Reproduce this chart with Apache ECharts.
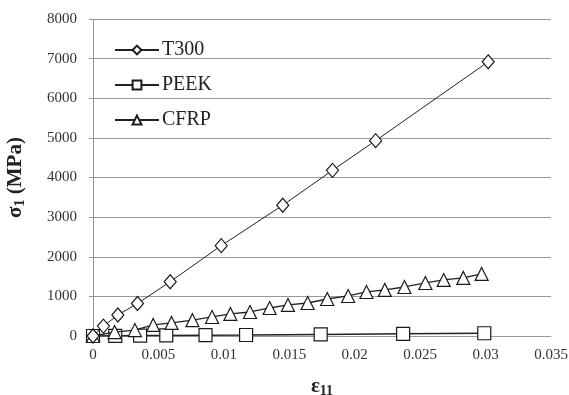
<!DOCTYPE html>
<html>
<head>
<meta charset="utf-8">
<script src="https://cdn.jsdelivr.net/npm/echarts@6/dist/echarts.min.js"></script>
<style>html,body{margin:0;padding:0;background:#fff}#c{width:569px;height:395px}</style>
</head>
<body>
<div id="c"></div>
<script>
// Data
const seriesNames = ['T300', 'PEEK', 'CFRP'];
const t300Strain = [0, 0.0008, 0.0019, 0.0034, 0.0059, 0.0098, 0.0145, 0.0183, 0.0216, 0.0302];
const t300Stress = [0, 250, 530, 820, 1370, 2280, 3300, 4180, 4930, 6920];
const peekStrain = [0, 0.0017, 0.0036, 0.0056, 0.0086, 0.0117, 0.0174, 0.0237, 0.0299];
const peekStress = [0, 5, 10, 15, 20, 25, 40, 55, 70];
const cfrpStrain = [0, 0.00165, 0.0032, 0.0046, 0.0060, 0.0076, 0.0091, 0.0105, 0.0120, 0.0135, 0.0149, 0.0164, 0.0179, 0.0195, 0.0209, 0.0223, 0.0238, 0.0254, 0.0268, 0.0283, 0.0297];
const cfrpStress = [0, 100, 150, 280, 330, 400, 480, 556, 606, 707, 783, 833, 934, 1010, 1111, 1162, 1237, 1338, 1414, 1465, 1566];
const xTicks = [0, 0.005, 0.01, 0.015, 0.02, 0.025, 0.03, 0.035];
const yTicks = [0, 1000, 2000, 3000, 4000, 5000, 6000, 7000, 8000];

const zip = (a, b) => a.map((v, i) => [v, b[i]]);
const font = '"Liberation Serif", "Times New Roman", serif';
const mk = {color: '#fff', borderColor: '#1a1a1a', borderWidth: 1.2};

const chart = echarts.init(document.getElementById('c'), null, {renderer: 'canvas'});
chart.setOption({
  animation: false,
  backgroundColor: '#fff',
  grid: {left: 93, right: 18, top: 19, bottom: 59, containLabel: false, outerBoundsMode: 'none'},
  legend: {
    orient: 'vertical', left: 109, top: 35, itemGap: 15,
    itemWidth: 44, itemHeight: 11,
    textStyle: {fontFamily: font, fontSize: 20, color: '#222', padding: [0, 0, 0, -2]},
    data: seriesNames
  },
  xAxis: {
    type: 'value', min: 0, max: 0.035, interval: 0.005,
    axisLine: {show: true, lineStyle: {color: '#999', width: 1}},
    axisTick: {show: false},
    splitLine: {show: false},
    axisLabel: {fontFamily: font, fontSize: 15, color: '#333', margin: 12,
      formatter: v => { const t = xTicks.find(x => Math.abs(x - v) < 1e-9); return t === undefined ? '' : String(t); }},
    name: '{a|ε}{s|11}', nameLocation: 'middle', nameGap: 39,
    nameTextStyle: {rich: {
      a: {fontFamily: font, fontSize: 21, fontWeight: 'bold', color: '#222'},
      s: {fontFamily: font, fontSize: 14, fontWeight: 'bold', color: '#222', padding: [9, 0, 0, 0]}
    }}
  },
  yAxis: {
    type: 'value', min: 0, max: 8000, interval: 1000,
    axisLine: {show: true, lineStyle: {color: '#999', width: 1}},
    axisTick: {show: true, length: 4, inside: false, lineStyle: {color: '#999'}},
    splitLine: {show: true, lineStyle: {color: '#999', width: 1}},
    axisLabel: {fontFamily: font, fontSize: 15, color: '#333', margin: 16,
      formatter: v => yTicks.includes(v) ? String(v) : ''},
    name: '{a|σ}{s|1}{a| (MPa)}', nameLocation: 'middle', nameGap: 66, nameRotate: 90,
    nameTextStyle: {rich: {
      a: {fontFamily: font, fontSize: 21, fontWeight: 'bold', color: '#222'},
      s: {fontFamily: font, fontSize: 14, fontWeight: 'bold', color: '#222', padding: [9, 0, 0, 0]}
    }}
  },
  series: [
    {name: seriesNames[1], type: 'line', data: zip(peekStrain, peekStress),
     symbol: 'rect', symbolSize: 13, lineStyle: {color: '#222', width: 1.5}, itemStyle: mk, z: 2},
    {name: seriesNames[2], type: 'line', data: zip(cfrpStrain, cfrpStress),
     symbol: 'triangle', symbolSize: 13, lineStyle: {color: '#222', width: 1.3}, itemStyle: mk, z: 3},
    {name: seriesNames[0], type: 'line', data: zip(t300Strain, t300Stress),
     symbol: 'diamond', symbolSize: [12, 14], lineStyle: {color: '#222', width: 1}, itemStyle: mk, z: 4}
  ]
});
</script>
</body>
</html>
